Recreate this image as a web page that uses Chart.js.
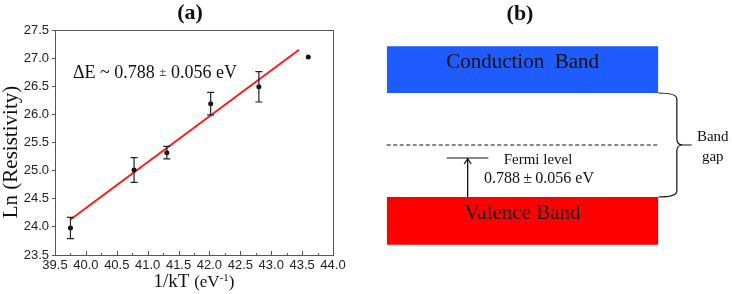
<!DOCTYPE html>
<html>
<head>
<meta charset="utf-8">
<script src="https://cdn.jsdelivr.net/npm/chart.js@4"></script>
<style>
  html, body { margin: 0; padding: 0; background: #fff; }
  #wrap { position: relative; width: 732px; height: 294px; overflow: hidden; }
  #boxA { position: absolute; left: 0; top: 0; width: 370px; height: 294px; }
  #boxB { position: absolute; left: 370px; top: 0; width: 362px; height: 294px; }
</style>
</head>
<body>
<div id="wrap">
  <div id="boxA"><canvas id="chartA" width="370" height="294"></canvas></div>
  <div id="boxB"><canvas id="chartB" width="362" height="294"></canvas></div>
</div>
<script>
// ---- panel (a): Arrhenius plot ----
const invKT  = [39.75, 40.78, 41.31, 42.02, 42.80, 43.60];
const lnRho  = [23.98, 25.01, 25.32, 26.19, 26.49, 27.02];
const lnErr  = [0.19, 0.22, 0.11, 0.20, 0.27, 0];
const fitX   = [39.75, 43.45];
const fitY   = [24.13, 27.15];
const xRange = [39.5, 44.0];
const yRange = [23.5, 27.5];
const tickStep = 0.5;

// ---- panel (b): band diagram (arbitrary energy units, valence top = 0) ----
const bandNames  = ['Conduction  Band', 'Valence Band'];
const bandColors = ['#1f5cff', '#ff0000'];
const bandLower  = [2.0, -0.92];
const bandUpper  = [2.9, 0];
const bandX      = [0, 1];
const midgapLevel = 1.0;
const fermiLevel  = 0.75;
const fermiX      = [0.221, 0.374];
const arrowX      = 0.298;

const SERIF = '"Liberation Serif", "DejaVu Serif", serif';
const SANS  = '"Liberation Sans", Arial, sans-serif';

Chart.defaults.animation = false;

const panelA = {
  id: 'panelA',
  afterDatasetsDraw(chart) {
    const { ctx, chartArea: a, scales: { x, y } } = chart;
    ctx.save();
    // error bars
    ctx.strokeStyle = '#222';
    ctx.lineWidth = 1.2;
    invKT.forEach((v, i) => {
      if (!lnErr[i]) return;
      const px = x.getPixelForValue(v);
      const y1 = y.getPixelForValue(lnRho[i] + lnErr[i]);
      const y2 = y.getPixelForValue(lnRho[i] - lnErr[i]);
      ctx.beginPath();
      ctx.moveTo(px, y1); ctx.lineTo(px, y2);
      ctx.moveTo(px - 3.5, y1); ctx.lineTo(px + 3.5, y1);
      ctx.moveTo(px - 3.5, y2); ctx.lineTo(px + 3.5, y2);
      ctx.stroke();
    });
    // frame
    ctx.strokeStyle = '#555';
    ctx.lineWidth = 1;
    ctx.strokeRect(a.left + 0.5, a.top + 0.5, a.right - a.left, a.bottom - a.top);
    // x ticks (inward, with minor ticks)
    ctx.beginPath();
    for (let v = xRange[0]; v <= xRange[1] + 1e-6; v += tickStep / 2) {
      const px = Math.round(x.getPixelForValue(v)) + 0.5;
      const major = Math.abs((v - xRange[0]) / tickStep - Math.round((v - xRange[0]) / tickStep)) < 1e-6;
      ctx.moveTo(px, a.bottom);
      ctx.lineTo(px, a.bottom - (major ? 4 : 2));
    }
    ctx.stroke();

    // title
    ctx.fillStyle = '#111';
    ctx.textAlign = 'center';
    ctx.textBaseline = 'middle';
    ctx.font = 'bold 22px ' + SERIF;
    ctx.fillText('(a)', 190, 13);

    // annotation
    ctx.textAlign = 'left';
    let tx = 73;
    const ty = 73;
    const parts = [['\u0394E ~ 0.788 ', 18], ['\u00b1', 13], [' 0.056 eV', 18]];
    parts.forEach(([t, s]) => {
      ctx.font = s + 'px ' + SERIF;
      ctx.fillText(t, tx, ty);
      tx += ctx.measureText(t).width;
    });

    // y title
    ctx.save();
    ctx.translate(11, 152);
    ctx.rotate(-Math.PI / 2);
    ctx.textAlign = 'center';
    ctx.font = '21px ' + SERIF;
    ctx.fillText('Ln (Resistivity)', 0, 0);
    ctx.restore();

    // x title with superscript
    const segs = [['1/kT ', 19, 0], ['(eV', 17, 0], ['-1', 11, -6], [')', 17, 0]];
    let w = 0;
    segs.forEach(([t, s]) => { ctx.font = s + 'px ' + SERIF; w += ctx.measureText(t).width; });
    let sx = (a.left + a.right) / 2 - w / 2;
    ctx.textBaseline = 'alphabetic';
    segs.forEach(([t, s, dy]) => {
      ctx.font = s + 'px ' + SERIF;
      ctx.fillText(t, sx, 287 + dy);
      sx += ctx.measureText(t).width;
    });
    ctx.restore();
  }
};

new Chart(document.getElementById('chartA'), {
  type: 'scatter',
  data: {
    datasets: [
      {
        label: 'data',
        data: invKT.map((v, i) => ({ x: v, y: lnRho[i] })),
        pointRadius: 2.5,
        pointBackgroundColor: '#111',
        pointBorderWidth: 0
      },
      {
        label: 'fit',
        data: fitX.map((v, i) => ({ x: v, y: fitY[i] })),
        showLine: true,
        pointRadius: 0,
        borderColor: '#ff1a1a',
        borderWidth: 2
      }
    ]
  },
  options: {
    responsive: false,
    layout: { padding: { left: 0, right: 37, top: 30, bottom: 0 } },
    plugins: { legend: { display: false }, tooltip: { enabled: false } },
    scales: {
      x: {
        min: xRange[0], max: xRange[1],
        afterFit(s) { s.height = 39; },
        border: { display: false },
        grid: { display: false, drawTicks: false },
        ticks: {
          stepSize: tickStep, padding: 3,
          maxRotation: 0, minRotation: 0, autoSkip: false,
          color: '#222', font: { family: SANS, size: 13 },
          callback: v => Number(v).toFixed(1)
        }
      },
      y: {
        min: yRange[0], max: yRange[1],
        afterFit(s) { s.width = 55; },
        border: { display: false },
        grid: { drawOnChartArea: false, tickLength: 3, color: '#555' },
        ticks: {
          stepSize: tickStep, padding: 3,
          color: '#222', font: { family: SANS, size: 13 },
          callback: v => Number(v).toFixed(1)
        }
      }
    }
  },
  plugins: [panelA]
});

// ---- panel (b) ----
const panelB = {
  id: 'panelB',
  afterDatasetsDraw(chart) {
    const { ctx, scales: { x, y } } = chart;
    ctx.save();
    ctx.fillStyle = '#111';
    ctx.strokeStyle = '#111';
    ctx.textAlign = 'center';
    ctx.textBaseline = 'middle';

    ctx.font = 'bold 22px ' + SERIF;
    ctx.fillText('(b)', 150, 14);

    // band labels
    const cx = x.getPixelForValue((bandX[0] + bandX[1]) / 2);
    ctx.font = '21px ' + SERIF;
    bandNames.forEach((n, i) => {
      const cy = y.getPixelForValue((bandLower[i] + bandUpper[i]) / 2) - 7;
      ctx.fillText(n, cx, cy);
    });

    // arrow head
    const ax = x.getPixelForValue(arrowX);
    const ay = y.getPixelForValue(fermiLevel);
    ctx.lineWidth = 1.3;
    ctx.beginPath();
    ctx.moveTo(ax - 3.5, ay + 6);
    ctx.lineTo(ax, ay + 1);
    ctx.lineTo(ax + 3.5, ay + 6);
    ctx.stroke();

    // fermi text
    const fx = x.getPixelForValue(0.557);
    ctx.font = '15px ' + SERIF;
    ctx.fillText('Fermi level', fx, y.getPixelForValue(0.71));
    ctx.font = '16px ' + SERIF;
    ctx.fillText('0.788\u2009\u00b1\u20090.056 eV', fx + 1, y.getPixelForValue(0.345));

    // brace for band gap
    const x0 = x.getPixelForValue(bandX[1]);
    const xb = x.getPixelForValue(1.068);
    const xt = x.getPixelForValue(1.123);
    const yTop = y.getPixelForValue(bandLower[0]);
    const yBot = y.getPixelForValue(bandUpper[1]);
    const yMid = y.getPixelForValue(midgapLevel);
    const r = 6;
    ctx.lineWidth = 1.2;
    ctx.beginPath();
    ctx.moveTo(x0, yTop);
    ctx.quadraticCurveTo(xb, yTop, xb, yTop + r);
    ctx.lineTo(xb, yMid - r);
    ctx.quadraticCurveTo(xb, yMid, xb + r, yMid);
    ctx.quadraticCurveTo(xb, yMid, xb, yMid + r);
    ctx.lineTo(xb, yBot - r);
    ctx.quadraticCurveTo(xb, yBot, x0, yBot);
    ctx.moveTo(xb + r, yMid);
    ctx.lineTo(xt, yMid);
    ctx.stroke();

    ctx.font = '15px ' + SERIF;
    const gx = x.getPixelForValue(1.2);
    ctx.fillText('Band', gx, y.getPixelForValue(1.15));
    ctx.fillText('gap', gx, y.getPixelForValue(0.76));
    ctx.restore();
  }
};

const line = (xs, yv) => xs.map(v => ({ x: v, y: yv }));

new Chart(document.getElementById('chartB'), {
  type: 'scatter',
  data: {
    datasets: [
      ...bandNames.map((n, i) => ({
        label: n,
        data: line(bandX, bandUpper[i]),
        showLine: true,
        pointRadius: 0,
        borderWidth: 0,
        borderColor: bandColors[i],
        backgroundColor: bandColors[i],
        fill: { value: bandLower[i] }
      })),
      {
        label: 'midgap',
        data: line(bandX, midgapLevel),
        showLine: true, pointRadius: 0,
        borderColor: '#111', borderWidth: 1.2, borderDash: [4, 2.5]
      },
      {
        label: 'fermi',
        data: line(fermiX, fermiLevel),
        showLine: true, pointRadius: 0,
        borderColor: '#111', borderWidth: 1.2
      },
      {
        label: 'arrow',
        data: [{ x: arrowX, y: bandUpper[1] }, { x: arrowX, y: fermiLevel }],
        showLine: true, pointRadius: 0,
        borderColor: '#111', borderWidth: 1.3
      }
    ]
  },
  options: {
    responsive: false,
    layout: { padding: 0 },
    plugins: { legend: { display: false }, tooltip: { enabled: false } },
    scales: {
      x: { display: false, min: -0.0615, max: 1.271 },
      y: { display: false, min: -1.865, max: 3.788 }
    }
  },
  plugins: [panelB]
});
</script>
</body>
</html>
